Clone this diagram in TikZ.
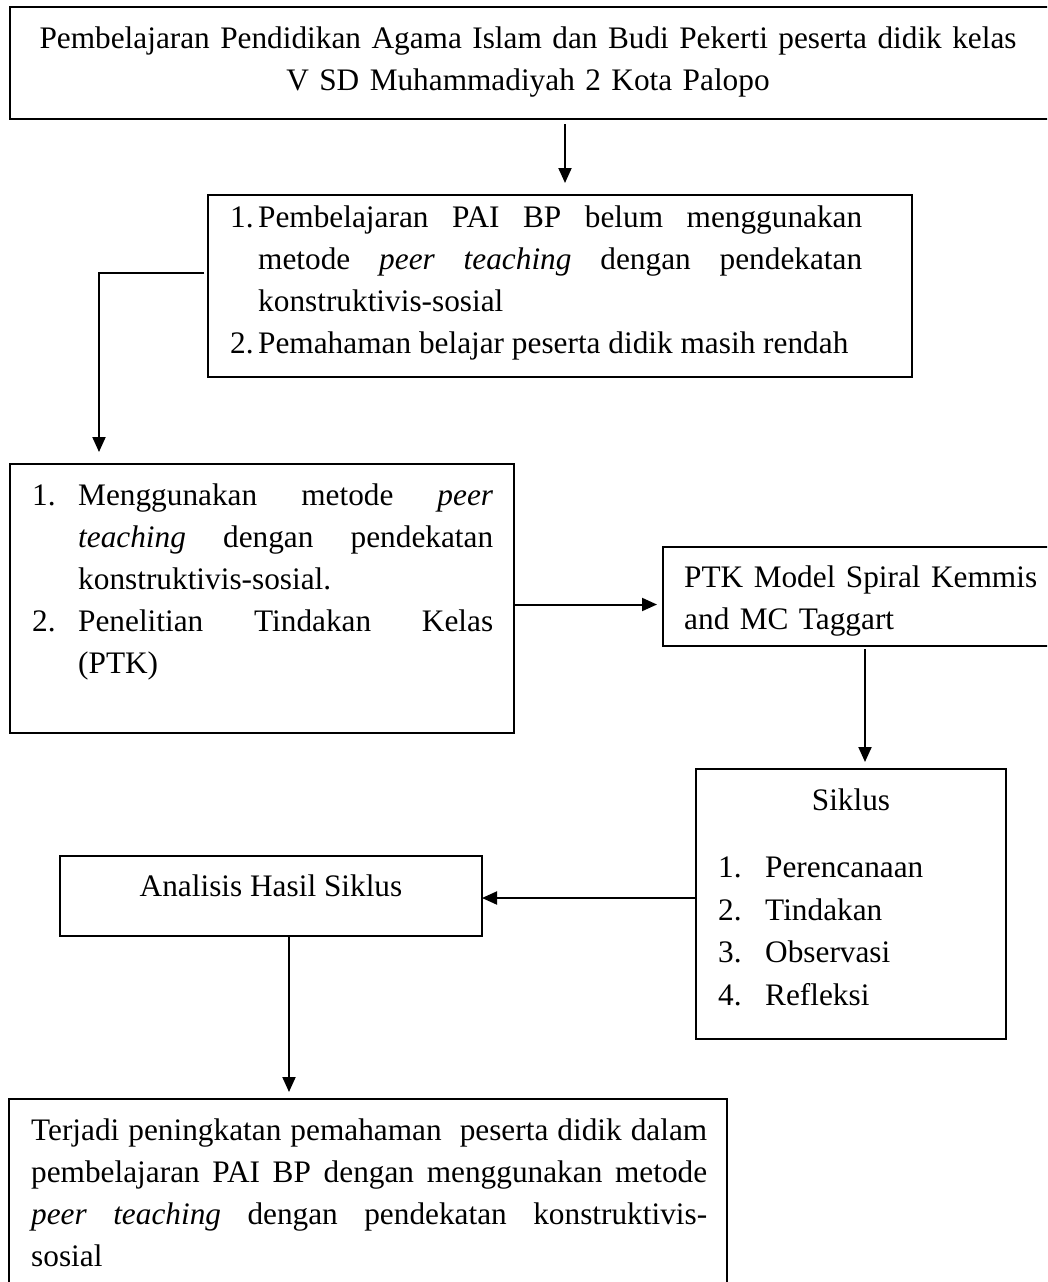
\documentclass[tikz,border=0pt]{standalone}
\usepackage{fontspec}
\setmainfont{Liberation Serif}
\usetikzlibrary{arrows.meta}
\tolerance=10000
\hbadness=10000

\begin{document}
\begin{tikzpicture}[x=1pt, y=-1pt,
  box/.style={draw, line width=2pt, inner sep=0pt, outer sep=0pt, anchor=north west},
  txt/.style={inner sep=0pt, anchor=north west, font={\fontsize{31.3}{42}\selectfont}},
  arr/.style={line width=2pt, -{Triangle[length=15pt, width=13pt]}}]
\useasboundingbox (0,0) rectangle (1047,1282);
\clip (0,0) rectangle (1047,1282);

% kotak-kotak
\node[box, minimum width=1060pt, minimum height=112pt] (b1) at (10,7) {};
\node[box, minimum width=704pt, minimum height=182pt] (b2) at (208,195) {};
\node[box, minimum width=504pt, minimum height=269pt] (b3) at (10,464) {};
\node[box, minimum width=400pt, minimum height=99pt] (b4) at (663,547) {};
\node[box, minimum width=310pt, minimum height=270pt] (b5) at (696,769) {};
\node[box, minimum width=422pt, minimum height=80pt] (b6) at (60,856) {};
\node[box, minimum width=718pt, minimum height=200pt] (b7) at (9,1099) {};

% teks
\node[txt, anchor=north, align=center, text width=1030pt] (t1) at (528,26.5)
  {Pembelajaran Pendidikan Agama Islam dan Budi Pekerti peserta didik kelas\\
   V SD Muhammadiyah 2 Kota Palopo};
\node[txt, align=justify, text width=632pt] (t2) at (230,205.5)
  {\noindent\hangindent=28pt\hangafter=1\makebox[28pt][l]{1.}Pembelajaran PAI BP belum menggunakan\linebreak
   metode \textit{peer teaching} dengan pendekatan\linebreak konstruktivis-sosial\par
   \noindent\hangindent=28pt\hangafter=1\makebox[28pt][l]{2.}Pemahaman belajar peserta didik masih rendah\par};
\node[txt, align=justify, text width=461pt] (t3) at (32,483.5)
  {\noindent\hangindent=46pt\hangafter=1\makebox[46pt][l]{1.}Menggunakan metode \textit{peer}\linebreak
   \textit{teaching} dengan pendekatan\linebreak konstruktivis-sosial.\par
   \noindent\hangindent=46pt\hangafter=1\makebox[46pt][l]{2.}Penelitian Tindakan Kelas\linebreak (PTK)\par};
\node[txt, align=left, text width=360pt] (t4) at (684,565.5)
  {PTK Model Spiral Kemmis\\and MC Taggart};
\node[txt, anchor=north] (t5) at (851,788.5) {Siklus};
\node[txt, align=left, text width=270pt, font={\fontsize{31.3}{42.7}\selectfont}] (t5l) at (718,856.5)
  {\makebox[47pt][l]{1.}Perencanaan\\\makebox[47pt][l]{2.}Tindakan\\
   \makebox[47pt][l]{3.}Observasi\\\makebox[47pt][l]{4.}Refleksi};
\node[txt, anchor=north] (t6) at (271,874.5) {Analisis Hasil Siklus};
\node[txt, align=justify, text width=676pt] (t7) at (31,1118.5)
  {\noindent Terjadi peningkatan pemahaman\ \ peserta didik dalam\linebreak
   pembelajaran PAI BP dengan menggunakan metode\linebreak
   \textit{peer teaching} dengan pendekatan konstruktivis-\linebreak sosial\par};

% panah
\coordinate (k1) at (99,273);
\draw[arr, shorten <=5pt, shorten >=12pt] ([xshift=5pt]b2.north |- b1.south) -- ([xshift=5pt]b2.north);
\draw[arr, shorten <=4pt, shorten >=12pt] ([yshift=13pt]b2.west) -- (k1) -- (k1 |- b3.north);
\draw[arr, shorten >=6pt] ([yshift=-6pt]b3.east) -- ([yshift=-6pt]b3.east -| b4.west);
\draw[arr, shorten <=3pt, shorten >=7pt] (b4.south -| 865,0) -- (b5.north -| 865,0);
\draw[arr] ([yshift=-2pt]b6.east -| b5.west) -- ([yshift=-2pt]b6.east);
\draw[arr, shorten >=7pt] ([xshift=18pt]b6.south) -- ([xshift=18pt]b6.south |- b7.north);
\end{tikzpicture}
\end{document}
